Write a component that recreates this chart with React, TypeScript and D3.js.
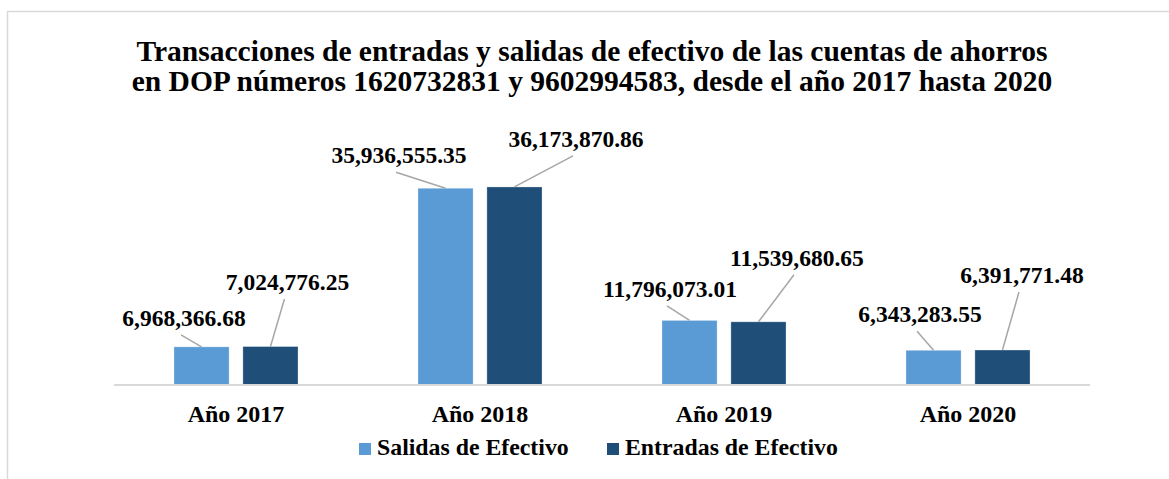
import React from "react";
import * as d3 from "d3";

const categories = ["Año 2017", "Año 2018", "Año 2019", "Año 2020"];
const seriesNames = ["Salidas de Efectivo", "Entradas de Efectivo"];
const salidas = [6968366.68, 35936555.35, 11796073.01, 6343283.55];
const entradas = [7024776.25, 36173870.86, 11539680.65, 6391771.48];
const titleLines = [
  "Transacciones de entradas y salidas de efectivo de las cuentas de ahorros",
  "en DOP números 1620732831 y 9602994583, desde el año 2017 hasta 2020",
];

// manually placed data labels (offset from bar top centre), like the dragged labels in the original
const labelOffsets = [
  [[-17.5, -21], [17, -56.5]],
  [[-46.5, -25], [61.5, -40]],
  [[-19.5, -23.5], [38.5, -56]],
  [[-13.5, -28], [19.5, -67]],
];

const colors = ["#5B9BD5", "#1F4E79"];
const font = "'Liberation Serif', 'Times New Roman', serif";
const W = 1169;
const H = 479;

const fmt = d3.format(",.2f");

export default function App() {
  const x0 = d3.scaleBand<string>().domain(categories).range([114, 1090]);
  const x1 = d3
    .scaleBand<string>()
    .domain(seriesNames)
    .range([0, x0.bandwidth()])
    .paddingInner(0.2)
    .paddingOuter(0.87);
  const y = d3.scaleLinear().domain([0, 40e6]).range([385, 166]);

  const values = [salidas, entradas];

  return (
    <svg
      width={W}
      height={H}
      style={{ position: "fixed", left: 0, top: 0, background: "#fff" }}
      fontFamily={font}
      fontWeight="bold"
    >
      <rect x={7.5} y={11.5} width={W + 10} height={H + 10} fill="#fff" stroke="#D9D9D9" strokeWidth={1.5} />

      {titleLines.map((t, i) => (
        <text key={i} x={592} y={61 + i * 30} textAnchor="middle" fontSize={29.5} fill="#000">
          {t}
        </text>
      ))}

      {/* bars */}
      {categories.map((c, ci) =>
        seriesNames.map((s, si) => {
          const v = values[si][ci];
          return (
            <rect
              key={c + s}
              x={(x0(c) ?? 0) + (x1(s) ?? 0)}
              y={y(v)}
              width={x1.bandwidth()}
              height={y(0) - y(v)}
              fill={colors[si]}
              stroke="#fff"
              strokeOpacity={0.4}
              strokeWidth={0.75}
            />
          );
        })
      )}

      {/* baseline */}
      <line x1={114} x2={1090} y1={y(0)} y2={y(0)} stroke="#D9D9D9" strokeWidth={2} />

      {/* data labels with leader lines */}
      {categories.map((c, ci) =>
        seriesNames.map((s, si) => {
          const v = values[si][ci];
          const bx = (x0(c) ?? 0) + (x1(s) ?? 0) + x1.bandwidth() / 2;
          const by = y(v);
          const [dx, dy] = labelOffsets[ci][si];
          const lx = bx + dx;
          const ly = by + dy;
          return (
            <g key={"l" + c + s}>
              <line x1={lx - 3} y1={ly + 9} x2={bx} y2={by} stroke="#A6A6A6" strokeWidth={1.5} />
              <text x={lx} y={ly} textAnchor="middle" fontSize={23.5} fill="#000">
                {fmt(v)}
              </text>
            </g>
          );
        })
      )}

      {/* category axis labels */}
      {categories.map((c) => (
        <text
          key={"c" + c}
          x={(x0(c) ?? 0) + x0.bandwidth() / 2}
          y={422}
          textAnchor="middle"
          fontSize={24}
          fill="#000"
        >
          {c}
        </text>
      ))}

      {/* legend */}
      {seriesNames.map((s, i) => {
        const lx = [359, 607][i];
        return (
          <g key={"lg" + s}>
            <rect x={lx} y={443} width={12} height={12} fill={colors[i]} />
            <text x={lx + 18} y={455} fontSize={23.8} fill="#000">
              {s}
            </text>
          </g>
        );
      })}
    </svg>
  );
}
